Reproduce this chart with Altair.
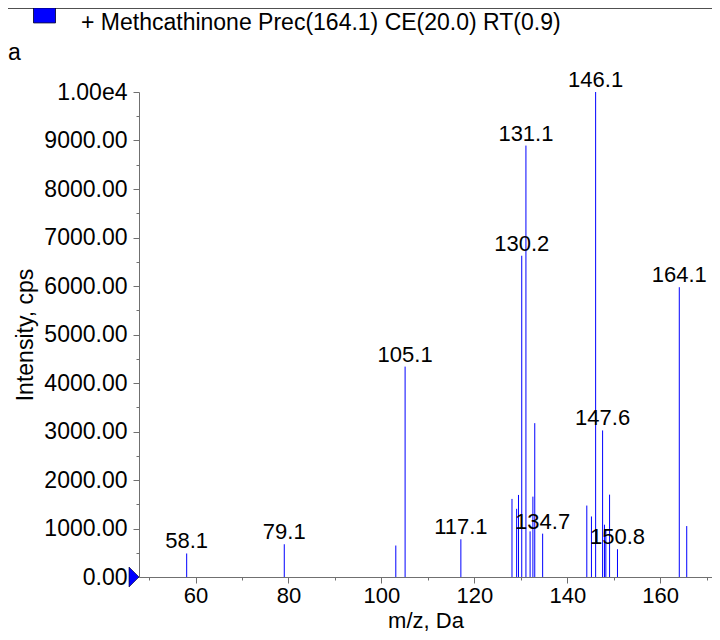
import altair as alt
import pandas as pd

# ---- data ----
series_name = "+ Methcathinone Prec(164.1) CE(20.0) RT(0.9)"
mz = [58.1, 79.1, 103.1, 105.1, 117.1, 128.1, 129.1, 129.5, 130.2, 131.1, 132.0, 132.6,
      133.0, 134.7, 144.2, 145.2, 146.1, 147.6, 148.0, 148.3, 149.1, 150.8, 164.1, 165.7]
intensity = [485, 675, 649, 4338, 778, 1610, 1406, 1692, 6624, 8895, 941, 1657,
             3172, 894, 1473, 1248, 10000, 3022, 1078, 980, 1698, 573, 5975, 1050]
label_mz = [58.1, 79.1, 105.1, 117.1, 130.2, 131.1, 134.7, 146.1, 147.6, 150.8, 164.1]
label_text = ["58.1", "79.1", "105.1", "117.1", "130.2", "131.1", "134.7",
              "146.1", "147.6", "150.8", "164.1"]
x_domain = [47.84, 171.14]
y_domain = [0, 10000]
x_ticks = [60, 80, 100, 120, 140, 160]
x_minor = [50, 70, 90, 110, 130, 150, 170]
y_ticks = [0, 1000, 2000, 3000, 4000, 5000, 6000, 7000, 8000, 9000, 10000]
y_minor = [500, 1500, 2500, 3500, 4500, 5500, 6500, 7500, 8500, 9500]

FONT = "Liberation Sans"
AX = "#707070"
W, H = 573, 485

peaks = pd.DataFrame({"mz": mz, "intensity": intensity})
lookup = dict(zip(mz, intensity))
labels = pd.DataFrame({"mz": label_mz,
                       "intensity": [lookup[m] for m in label_mz],
                       "label": label_text})
marker = pd.DataFrame({"mz": [x_domain[0]], "intensity": [0], "series": [series_name]})
one = pd.DataFrame({"k": [0]})

xs = alt.Scale(domain=x_domain, nice=False, zero=False)
ys = alt.Scale(domain=y_domain, nice=False, zero=False)

x_major = alt.Axis(values=x_ticks, format="d", orient="bottom", grid=False,
                   tickSize=6, tickColor=AX, domainColor=AX, labelPadding=2,
                   labelFont=FONT, labelFontSize=22, labelColor="black",
                   labelFlush=False, labelOverlap=False,
                   title="m/z, Da", titleFont=FONT, titleFontSize=22,
                   titleFontWeight="normal", titleColor="black",
                   titleBaseline="alphabetic", titleY=50)
y_major = alt.Axis(values=y_ticks, orient="left", grid=False,
                   labelExpr="datum.value >= 10000 ? '1.00e4' : format(datum.value, '.2f')",
                   tickSize=6, tickColor=AX, domainColor=AX, labelPadding=6,
                   labelFont=FONT, labelFontSize=23, labelColor="black",
                   labelFlush=False, labelOverlap=False, labelBaseline="middle",
                   title="Intensity, cps", titleFont=FONT, titleFontSize=23,
                   titleFontWeight="normal", titleColor="black",
                   titleAngle=270, titleBaseline="alphabetic", titleAlign="center",
                   titleX=-107, titleY=H / 2)
x_min_ax = alt.Axis(values=x_minor, orient="bottom", grid=False, labels=False,
                    domain=False, tickSize=3, tickColor=AX, title=None)
y_min_ax = alt.Axis(values=y_minor, orient="left", grid=False, labels=False,
                    domain=False, tickSize=3, tickColor=AX, title=None)

rules = alt.Chart(peaks).mark_rule(color="#0000ff", strokeWidth=1).encode(
    x=alt.X("mz:Q", scale=xs, axis=x_major),
    y=alt.Y("intensity:Q", scale=ys, axis=y_major),
    y2=alt.datum(0),
)

texts = alt.Chart(labels).mark_text(baseline="alphabetic", align="center", dy=-5,
                                    font=FONT, fontSize=22, color="black").encode(
    x=alt.X("mz:Q", scale=xs, axis=x_min_ax),
    y=alt.Y("intensity:Q", scale=ys, axis=y_min_ax),
    text="label:N",
)

tri = alt.Chart(marker).mark_point(shape="M-1,-1L0,0L-1,1Z", size=400, filled=True,
                                   opacity=1, stroke="#000022", strokeWidth=0.6,
                                   dy=-2).encode(
    x=alt.X("mz:Q", scale=xs, axis=None),
    y=alt.Y("intensity:Q", scale=ys, axis=None),
    color=alt.Color("series:N", scale=alt.Scale(range=["#0000ff"]),
                    legend=alt.Legend(orient="none", legendX=-106, legendY=-80.9,
                                      padding=0, title=None,
                                      symbolType="M-1,-1.33L1,-1.33L1,0.03L-1,0.03Z",
                                      symbolSize=484, symbolStrokeColor="#000022",
                                      symbolStrokeWidth=0.8, symbolOpacity=1,
                                      labelOffset=25, labelFont=FONT,
                                      labelFontSize=23, labelColor="black",
                                      labelBaseline="middle", labelLimit=0)),
)

topline = alt.Chart(one).mark_rule(color="#505050", strokeWidth=1).encode(
    x=alt.value(-131), x2=alt.value(W), y=alt.value(-83.5))

stray = alt.Chart(one).mark_text(align="left", baseline="alphabetic", font=FONT,
                                 fontSize=23, color="black").encode(
    x=alt.value(-131), y=alt.value(-32), text=alt.value("a"))

chart = alt.layer(rules, texts, tri, topline, stray).resolve_axis(
    x="independent", y="independent"
).properties(
    width=W, height=H,
    autosize=alt.AutoSizeParams(type="none"),
    padding={"left": 131, "top": 84, "right": 0, "bottom": 55},
    background="white",
).configure_view(stroke=None)

chart.save("out.html", embed_options={"renderer": "svg", "actions": False})
